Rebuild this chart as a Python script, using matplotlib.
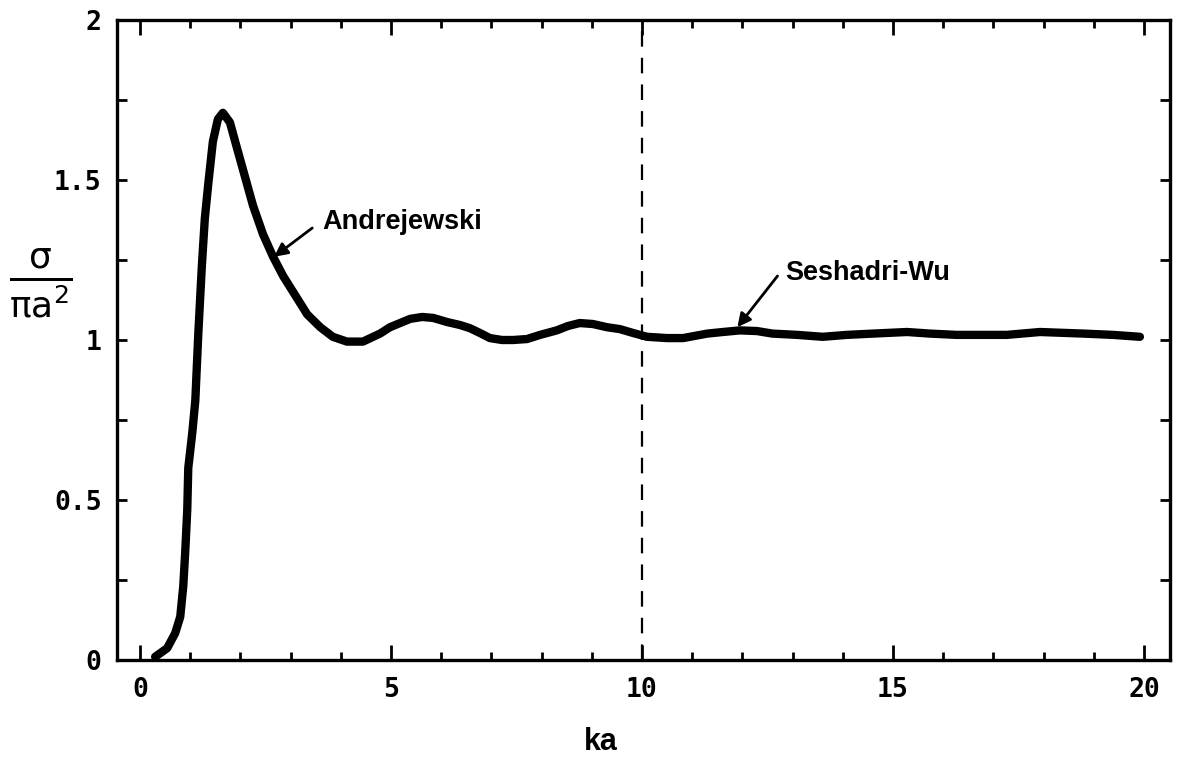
import matplotlib
matplotlib.use('Agg')
import matplotlib.pyplot as plt
from matplotlib.ticker import MultipleLocator

# curve: ka vs sigma/(pi a^2)
ka = [0.3, 0.54, 0.70, 0.80, 0.86, 0.90, 0.94, 0.96, 1.04, 1.10, 1.16, 1.23, 1.29,
      1.36, 1.45, 1.55, 1.65, 1.79, 1.93, 2.09, 2.25, 2.45, 2.65, 2.85, 3.05, 3.33,
      3.59, 3.84, 4.12, 4.44, 4.78, 4.98, 5.18, 5.38, 5.62, 5.84, 6.12, 6.37, 6.57,
      6.77, 6.97, 7.21, 7.43, 7.71, 7.97, 8.30, 8.53, 8.76, 9.02, 9.30, 9.56, 9.82,
      10.1, 10.5, 10.82, 11.3, 11.61, 11.95, 12.29, 12.6, 13.09, 13.6, 14.08, 14.6,
      15.28, 15.74, 16.27, 17.27, 17.93, 18.8, 19.38, 19.92]
sigma = [0.01, 0.037, 0.084, 0.135, 0.23, 0.34, 0.47, 0.60, 0.71, 0.81, 1.02, 1.23, 1.38,
         1.49, 1.62, 1.69, 1.71, 1.68, 1.60, 1.51, 1.42, 1.33, 1.26, 1.20, 1.15, 1.08,
         1.04, 1.01, 0.995, 0.995, 1.02, 1.04, 1.053, 1.066, 1.072, 1.069, 1.056, 1.047, 1.037,
         1.022, 1.006, 1.0, 1.0, 1.003, 1.016, 1.03, 1.044, 1.053, 1.05, 1.04, 1.034, 1.022,
         1.01, 1.006, 1.006, 1.02, 1.025, 1.03, 1.028, 1.02, 1.016, 1.01, 1.016, 1.02,
         1.025, 1.02, 1.016, 1.016, 1.025, 1.02, 1.016, 1.01]

x_ticks = [0, 5, 10, 15, 20]
y_ticks = [0, 0.5, 1, 1.5, 2]
y_labels = ['0', '0.5', '1', '1.5', '2']
ka_cut = 10

fig = plt.figure(figsize=(11.77, 7.6), dpi=100)
ax = fig.add_axes([117/1177, 100/760, (1170-117)/1177, 640/760])

ax.plot(ka, sigma, color='black', lw=6, solid_capstyle='round', solid_joinstyle='round')
ax.plot([ka_cut, ka_cut], [0, 2], color='black', lw=1.6, dashes=(7, 5))

ax.set_xlim(-0.46, 20.52)
ax.set_ylim(0, 2)

ax.set_xticks(x_ticks)
ax.set_xticklabels([str(v) for v in x_ticks])
ax.xaxis.set_minor_locator(MultipleLocator(1))
ax.set_yticks(y_ticks)
ax.set_yticklabels(y_labels)
ax.yaxis.set_minor_locator(MultipleLocator(0.25))

ax.tick_params(which='both', direction='in', top=True, right=True, width=2)
ax.tick_params(axis='x', which='major', length=11, pad=12)
ax.tick_params(axis='x', which='minor', length=6)
ax.tick_params(axis='y', which='both', length=7)
ax.tick_params(axis='y', which='major', pad=11)
for lab in ax.get_xticklabels() + ax.get_yticklabels():
    lab.set_fontsize(19)
    lab.set_fontweight('bold')
    lab.set_family('DejaVu Sans Mono')

for s in ax.spines.values():
    s.set_linewidth(2.4)

arrow = dict(arrowstyle='-|>', color='black', lw=2, shrinkA=0, shrinkB=0, mutation_scale=20)
ax.annotate('', xy=(2.67, 1.26), xytext=(3.43, 1.35), arrowprops=arrow)
ax.text(3.63, 1.37, 'Andrejewski', fontsize=19.5, fontweight='bold',
        family='Liberation Sans', va='center')
ax.annotate('', xy=(11.9, 1.04), xytext=(12.7, 1.2), arrowprops=arrow)
ax.text(12.85, 1.21, 'Seshadri-Wu', fontsize=19.5, fontweight='bold',
        family='Liberation Sans', va='center')

fig.text(601/1177, 1 - 742/760, 'ka', fontsize=22, fontweight='bold',
         family='Liberation Sans', ha='center', va='center')
fig.text(41/1177, 1 - 284/760, r'$\mathregular{\frac{σ}{πa^2}}$', fontsize=37,
         ha='center', va='center')

fig.savefig('out.png', dpi=100)
